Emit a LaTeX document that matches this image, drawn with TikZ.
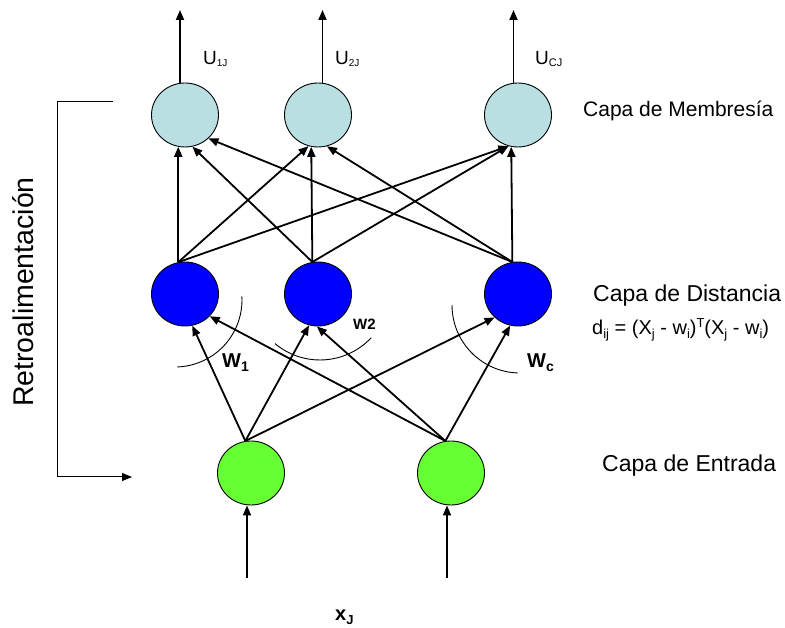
\documentclass[tikz,border=0pt]{standalone}
\usepackage{fontspec}
\setmainfont{Liberation Sans}
\usetikzlibrary{arrows.meta,shapes.geometric}
\definecolor{memb}{RGB}{185,223,227}
\definecolor{dist}{RGB}{0,0,255}
\definecolor{inp}{RGB}{102,255,51}
\newcommand{\fs}[1]{\fontsize{#1}{#1}\selectfont}
\begin{document}
\begin{tikzpicture}[x=1pt,y=1pt,
  neuron/.style={ellipse,draw=black,line width=0.9pt,minimum width=67pt,minimum height=64pt,inner sep=0pt},
  conn/.style={line width=1.8pt,-{Triangle[length=10pt,width=8pt]}},
  thinconn/.style={line width=1pt,-{Triangle[length=10pt,width=8pt]}},
  arcline/.style={line width=0.9pt},
  lbl/.style={inner sep=0pt,anchor=base west}]
\useasboundingbox (0,0) rectangle (785,627);

% neurons
\node[neuron,fill=memb] (m1) at (185,512) {};
\node[neuron,fill=memb] (m2) at (318,512) {};
\node[neuron,fill=memb] (m3) at (518,512) {};
\node[neuron,fill=dist] (d1) at (185,333) {};
\node[neuron,fill=dist] (d2) at (318,333) {};
\node[neuron,fill=dist] (d3) at (518,333) {};
\node[neuron,fill=inp] (i1) at (251,154) {};
\node[neuron,fill=inp] (i2) at (451,154) {};

% outputs
\coordinate (o1) at (180,617);
\coordinate (o2) at (322.5,617);
\coordinate (o3) at (513.5,617);
\draw[conn] (m1.north -| o1) -- (o1);
\draw[conn] (m2.north -| o2) -- (o2);
\draw[conn] (m3.north -| o3) -- (o3);

% distance -> membership
\draw[conn] (d1.102) -- (m1.258);
\draw[conn] (d1.102) -- (m2.253);
\draw[conn] (d1.102) -- (m3.253);
\draw[conn] (d2.100) -- (m1.283);
\draw[conn] (d2.100) -- (m2.258);
\draw[conn] (d2.100) -- (m3.253);
\draw[conn] (d3.100) -- (m1.315);
\draw[conn] (d3.100) -- (m2.286);
\draw[conn] (d3.100) -- (m3.258);

% input -> distance
\draw[conn] (i1.100) -- (d1.283);
\draw[conn] (i1.100) -- (d2.254);
\draw[conn] (i1.100) -- (d3.225);
\draw[conn] (i2.100) -- (d1.318);
\draw[conn] (i2.100) -- (d2.268);
\draw[conn] (i2.100) -- (d3.256);

% inputs
\coordinate (x1) at (247,49);
\coordinate (x2) at (447,49);
\draw[conn] (x1) -- (i1.south -| x1);
\draw[conn] (x2) -- (i2.south -| x2);

% weight arcs
\draw[arcline] (241.9,330.5) arc[start angle=3,end angle=-88,radius=67pt];
\draw[arcline] (275,283.4) arc[start angle=230,end angle=317,radius=70pt];
\draw[arcline] (452,322) arc[start angle=180,end angle=268,radius=68pt];

% feedback bracket
\coordinate (fbtop) at (113,525);
\coordinate (fbc1) at (57,525);
\coordinate (fbc2) at (57,150);
\coordinate (fbend) at (132,150);
\draw[thinconn] (fbtop) -- (fbc1) -- (fbc2) -- (fbend);

% labels
\node[lbl] (u1) at (203,562) {\fs{19}U\raisebox{-1.5pt}{\fs{10}1J}};
\node[lbl] (u2) at (335,562) {\fs{19}U\raisebox{-1.5pt}{\fs{10}2J}};
\node[lbl] (u3) at (535,562) {\fs{19}U\raisebox{-1.5pt}{\fs{11}CJ}};
\node[lbl] (lm) at (583,510) {\fs{21}Capa de Membresía};
\node[lbl] (ld) at (593,325) {\fs{23}Capa de Distancia};
\node[lbl] (lf) at (592,292) {\fs{20}d\raisebox{-4pt}{\fs{13}ij} = (X\raisebox{-4pt}{\fs{13}j} - w\raisebox{-4pt}{\fs{13}i})\raisebox{7pt}{\fs{13}T}(X\raisebox{-4pt}{\fs{13}j} - w\raisebox{-4pt}{\fs{13}i})};
\node[lbl] (le) at (602,155) {\fs{23}Capa de Entrada};
\node[lbl] (w1) at (222,259) {\fs{20}\bfseries W\raisebox{-3.5pt}{\fs{14}1}};
\node[lbl] (w2) at (353,297) {\fs{15}\bfseries W2};
\node[lbl] (wc) at (527,259) {\fs{20}\bfseries W\raisebox{-3.5pt}{\fs{14}c}};
\node[lbl] (xj) at (335,6) {\fs{20}\bfseries x\raisebox{-3.5pt}{\fs{13}J}};
\node[inner sep=0pt,anchor=base,rotate=90] (rt) at (33,335) {\fs{28.5}Retroalimentación};
\end{tikzpicture}
\end{document}
